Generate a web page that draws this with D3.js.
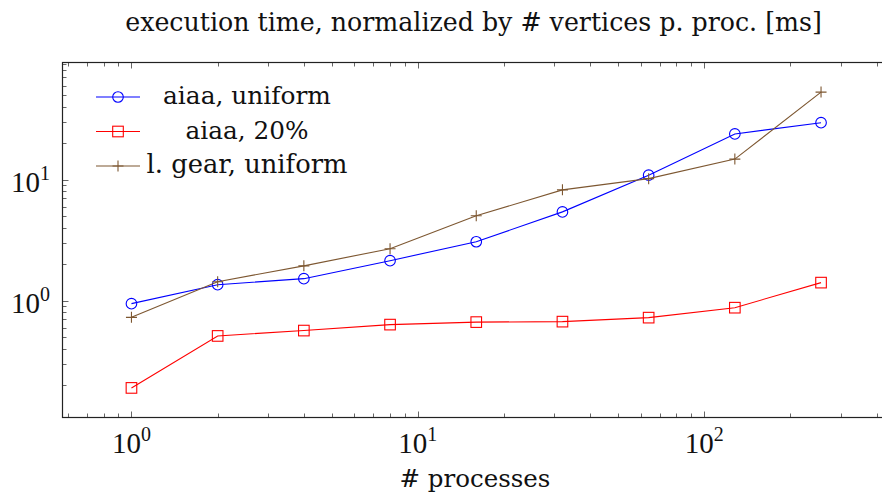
<!DOCTYPE html>
<html>
<head>
<meta charset="utf-8">
<script src="https://cdn.jsdelivr.net/npm/d3@7"></script>
<style>
  html, body { margin: 0; padding: 0; background: #fff; }
</style>
</head>
<body>
<svg id="chart" width="882" height="499"></svg>
<script>
// processes (x) and normalized execution times (ms) per series
const processes = [1, 2, 4, 8, 16, 32, 64, 128, 256];
const aiaaUniform = [0.945, 1.355, 1.52, 2.14, 3.07, 5.42, 10.9, 23.9, 29.6];
const aiaa20 = [0.19, 0.511, 0.566, 0.634, 0.665, 0.671, 0.724, 0.875, 1.41];
const gearUniform = [0.728, 1.435, 1.94, 2.69, 5.03, 8.24, 10.2, 14.8, 53];
const seriesNames = ["aiaa, uniform", "aiaa, 20%", "l. gear, uniform"];
const xTickExps = [0, 1, 2];
const yTickExps = [0, 1];

const FONT = "'DejaVu Serif', 'Liberation Serif', 'Noto Serif', serif";
const NUM_FONT = "'Liberation Serif', 'DejaVu Serif', serif";

const series = [
  { name: seriesNames[0], values: aiaaUniform, color: "#0000ff", marker: "circle" },
  { name: seriesNames[1], values: aiaa20, color: "#ff0000", marker: "square" },
  { name: seriesNames[2], values: gearUniform, color: "#7d5731", marker: "plus" }
];

const svg = d3.select("#chart");
const plot = { left: 62.5, top: 62.5, right: 890, bottom: 417.5 };

// log domains enlarged by 10% of the data range on each side
function enlarged(vals) {
  const lo = Math.log10(d3.min(vals)), hi = Math.log10(d3.max(vals));
  const pad = (hi - lo) * 0.1;
  return [Math.pow(10, lo - pad), Math.pow(10, hi + pad)];
}
const allY = aiaaUniform.concat(aiaa20, gearUniform);
const x = d3.scaleLog().domain(enlarged(processes)).range([plot.left, plot.right]);
const y = d3.scaleLog().domain(enlarged(allY)).range([plot.bottom, plot.top]);

// text helper: sizes the font so the string spans the given width
function fitText(g, str, px, py, width, anchor) {
  const t = g.append("text").attr("x", px).attr("y", py).attr("text-anchor", anchor || "middle")
    .attr("font-family", FONT).attr("font-size", 20).attr("fill", "#111").text(str);
  const w = t.node().getComputedTextLength();
  if (w > 0) t.attr("font-size", 20 * width / w);
  return t;
}

// minor + major ticks inside the frame
const isMajor = (v, exps) => exps.some(e => Math.abs(Math.log10(v) - e) < 1e-9);
const tickG = svg.append("g").attr("stroke", "#666").attr("stroke-width", 1);
x.ticks().forEach(v => {
  const px = Math.round(x(v)) + 0.5, len = isMajor(v, xTickExps) ? 6 : 4;
  tickG.append("line").attr("x1", px).attr("x2", px).attr("y1", plot.bottom).attr("y2", plot.bottom - len);
  tickG.append("line").attr("x1", px).attr("x2", px).attr("y1", plot.top).attr("y2", plot.top + len);
});
y.ticks().forEach(v => {
  const py = Math.round(y(v)) + 0.5, len = isMajor(v, yTickExps) ? 6 : 4;
  tickG.append("line").attr("y1", py).attr("y2", py).attr("x1", plot.left).attr("x2", plot.left + len);
  tickG.append("line").attr("y1", py).attr("y2", py).attr("x1", plot.right).attr("x2", plot.right - len);
});

// frame
svg.append("rect")
  .attr("x", plot.left).attr("y", plot.top)
  .attr("width", plot.right - plot.left).attr("height", plot.bottom - plot.top)
  .attr("fill", "none").attr("stroke", "#222").attr("stroke-width", 1.2);

// tick labels as 10^k
function powLabel(g, px, py, exp, anchor) {
  const t = g.append("text").attr("x", px).attr("y", py).attr("text-anchor", anchor)
    .attr("font-family", NUM_FONT).attr("font-size", 29).attr("fill", "#111");
  t.append("tspan").text("10");
  t.append("tspan").attr("dy", -12).attr("font-size", 20).text(String(exp));
}
const lab = svg.append("g");
xTickExps.forEach(e => powLabel(lab, x(Math.pow(10, e)), 453, e, "middle"));
yTickExps.forEach(e => powLabel(lab, 50, y(Math.pow(10, e)) + 12, e, "end"));

// lines and markers
const line = d3.line().x(d => x(d[0])).y(d => y(d[1]));
function drawMarker(g, kind, cx, cy, color) {
  if (kind === "circle") {
    g.append("circle").attr("cx", cx).attr("cy", cy).attr("r", 5.3)
      .attr("fill", "none").attr("stroke", color).attr("stroke-width", 1.1);
  } else if (kind === "square") {
    g.append("rect").attr("x", cx - 5.3).attr("y", cy - 5.3).attr("width", 10.6).attr("height", 10.6)
      .attr("fill", "none").attr("stroke", color).attr("stroke-width", 1.1);
  } else {
    g.append("path").attr("d", `M${cx - 5.5},${cy}H${cx + 5.5}M${cx},${cy - 5.5}V${cy + 5.5}`)
      .attr("stroke", color).attr("stroke-width", 1.1);
  }
}
series.forEach(s => {
  const pts = processes.map((p, i) => [p, s.values[i]]);
  const g = svg.append("g");
  g.append("path").attr("d", line(pts)).attr("fill", "none")
    .attr("stroke", s.color).attr("stroke-width", 1.1);
  pts.forEach(d => drawMarker(g, s.marker, x(d[0]), y(d[1]), s.color));
});

// legend (entries centred in their cell)
const legend = svg.append("g");
const legendWidths = [168, 123, 201];
series.forEach((s, i) => {
  const ly = 97 + i * 34.5;
  legend.append("line").attr("x1", 96).attr("x2", 140).attr("y1", ly).attr("y2", ly)
    .attr("stroke", s.color).attr("stroke-width", 1.1);
  drawMarker(legend, s.marker, 118, ly, s.color);
  fitText(legend, s.name, 247, ly + 7, legendWidths[i]);
});

// title and axis label
fitText(svg, "execution time, normalized by # vertices p. proc. [ms]", 473.5, 31, 697);
fitText(svg, "# processes", 475, 487, 151);
</script>
</body>
</html>
